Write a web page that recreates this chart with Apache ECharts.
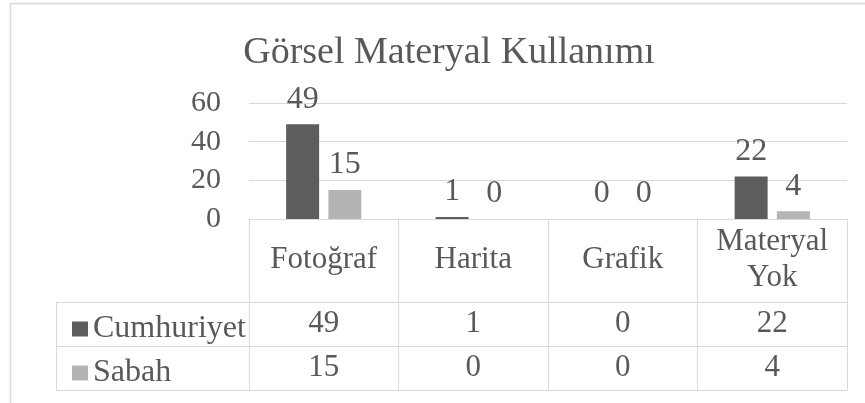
<!DOCTYPE html>
<html>
<head>
<meta charset="utf-8">
<script src="https://cdn.jsdelivr.net/npm/echarts@6/dist/echarts.min.js"></script>
<style>
  html, body { margin: 0; padding: 0; background: #fff; }
  #main { width: 865px; height: 403px; }
</style>
</head>
<body>
<div id="main"></div>
<script>
var categories = ['Fotoğraf', 'Harita', 'Grafik', 'Materyal Yok'];
var cumhuriyet = [49, 1, 0, 22];
var sabah = [15, 0, 0, 4];
var yTicks = [0, 20, 40, 60];

var FONT = 'Liberation Serif';
var TXT = '#595959';
var LINE = '#d9d9d9';

var chart = echarts.init(document.getElementById('main'));

// one x axis per table row: header, Cumhuriyet row, Sabah row, bottom border
function tableAxis(offset, tickLen, labels, margin) {
  return {
    type: 'category',
    data: categories,
    position: 'bottom',
    offset: offset,
    axisLine: { show: true, lineStyle: { color: LINE, width: 1 } },
    axisTick: { show: tickLen > 0, interval: 0, length: tickLen, lineStyle: { color: LINE } },
    axisLabel: {
      show: !!labels,
      interval: 0,
      margin: margin,
      verticalAlign: 'middle',
      color: TXT,
      fontFamily: FONT,
      fontSize: 31,
      lineHeight: 36,
      formatter: function (v, i) { return labels ? labels[i] : ''; }
    }
  };
}

var option = {
  animation: false,
  title: {
    text: 'Görsel Materyal Kullanımı',
    left: 444,
    top: 29,
    textAlign: 'center',
    textStyle: { color: TXT, fontFamily: FONT, fontSize: 38, fontWeight: 'normal' }
  },
  legend: [
    {
      data: ['Cumhuriyet'], left: 67, top: 308, itemWidth: 16, itemHeight: 15, itemGap: 0,
      icon: 'rect', textStyle: { color: TXT, fontFamily: FONT, fontSize: 32, lineHeight: 32 }
    },
    {
      data: ['Sabah'], left: 67, top: 352, itemWidth: 16, itemHeight: 15, itemGap: 0,
      icon: 'rect', textStyle: { color: TXT, fontFamily: FONT, fontSize: 32, lineHeight: 32 }
    }
  ],
  grid: { left: 249, right: 18, top: 103, bottom: 184 },
  xAxis: [
    tableAxis(0, 83, categories.map(function (c) { return c.replace(' ', '\n'); }), 41),
    tableAxis(83, 44, cumhuriyet, 22),
    tableAxis(127, 44, sabah, 22),
    tableAxis(171, 0, null, 0)
  ],
  yAxis: {
    type: 'value',
    min: yTicks[0],
    max: yTicks[yTicks.length - 1],
    interval: 20,
    axisLine: { show: false },
    axisTick: { show: false },
    splitLine: { lineStyle: { color: LINE, width: 1 } },
    axisLabel: { color: TXT, fontFamily: FONT, fontSize: 30, margin: 28 }
  },
  graphic: [
    // legend column borders of the data table
    { type: 'line', shape: { x1: 56, y1: 302.5, x2: 249, y2: 302.5 }, style: { stroke: LINE, lineWidth: 1 } },
    { type: 'line', shape: { x1: 56, y1: 346.5, x2: 249, y2: 346.5 }, style: { stroke: LINE, lineWidth: 1 } },
    { type: 'line', shape: { x1: 56, y1: 390.5, x2: 249, y2: 390.5 }, style: { stroke: LINE, lineWidth: 1 } },
    { type: 'line', shape: { x1: 56.5, y1: 302, x2: 56.5, y2: 391 }, style: { stroke: LINE, lineWidth: 1 } },
    // chart area frame
    { type: 'line', shape: { x1: 10, y1: 3.5, x2: 865, y2: 3.5 }, style: { stroke: LINE, lineWidth: 1.5 } },
    { type: 'line', shape: { x1: 10.5, y1: 3, x2: 10.5, y2: 403 }, style: { stroke: LINE, lineWidth: 1.5 } }
  ],
  series: [
    {
      name: 'Cumhuriyet',
      type: 'bar',
      data: cumhuriyet,
      barWidth: 33,
      barGap: '28%',
      itemStyle: { color: '#5d5d5d' },
      label: { show: true, position: 'top', distance: 9, color: TXT, fontFamily: FONT, fontSize: 32 }
    },
    {
      name: 'Sabah',
      type: 'bar',
      data: sabah,
      barWidth: 33,
      itemStyle: { color: '#b4b4b4' },
      label: { show: true, position: 'top', distance: 9, color: TXT, fontFamily: FONT, fontSize: 32 }
    }
  ]
};

chart.setOption(option);
</script>
</body>
</html>
